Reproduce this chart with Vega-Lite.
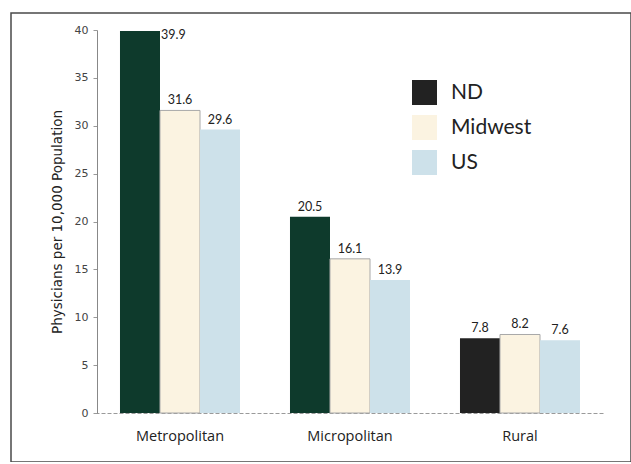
{
  "$schema": "https://vega.github.io/schema/vega-lite/v6.json",
  "autosize": "none",
  "padding": {"left": 11, "top": 13, "right": 0, "bottom": 0},
  "width": 620,
  "height": 449,
  "background": "white",
  "config": {
    "view": {"stroke": "#4a4a4a", "strokeWidth": 1.5},
    "font": "Lato"
  },
  "data": {
    "values": [
      {"cat": "Metropolitan", "series": "ND", "value": 39.9},
      {"cat": "Metropolitan", "series": "Midwest", "value": 31.6},
      {"cat": "Metropolitan", "series": "US", "value": 29.6},
      {"cat": "Micropolitan", "series": "ND", "value": 20.5},
      {"cat": "Micropolitan", "series": "Midwest", "value": 16.1},
      {"cat": "Micropolitan", "series": "US", "value": 13.9},
      {"cat": "Rural", "series": "ND", "value": 7.8},
      {"cat": "Rural", "series": "Midwest", "value": 8.2},
      {"cat": "Rural", "series": "US", "value": 7.6}
    ]
  },
  "encoding": {
    "x": {
      "field": "cat",
      "type": "nominal",
      "sort": ["Metropolitan", "Micropolitan", "Rural"],
      "scale": {"range": [84, 594], "paddingInner": 0.294, "paddingOuter": 0.147},
      "axis": {
        "title": null,
        "orient": "bottom",
        "offset": -49,
        "domain": true,
        "domainColor": "#9a9a9a",
        "domainDash": [4, 2],
        "ticks": false,
        "labelPadding": 16,
        "labelFontSize": 14.5,
        "labelFont": "Open Sans",
        "labelColor": "#222",
        "labelAngle": 0
      }
    },
    "xOffset": {
      "field": "series",
      "type": "nominal",
      "sort": ["ND", "Midwest", "US"],
      "scale": {"paddingInner": 0, "paddingOuter": 0}
    },
    "y": {
      "field": "value",
      "type": "quantitative",
      "scale": {"domain": [0, 40], "range": [400, 17], "nice": false},
      "axis": {
        "title": "Physicians per 10,000 Population",
        "titleFont": "DejaVu Sans",
        "titleFontSize": 13.5,
        "titleFontWeight": "normal",
        "titleColor": "#222",
        "titlePadding": 10,
        "offset": -86,
        "values": [0, 5, 10, 15, 20, 25, 30, 35, 40],
        "grid": false,
        "domainColor": "#888",
        "tickColor": "#999",
        "tickSize": 4,
        "labelFontSize": 11,
        "labelColor": "#444",
        "labelPadding": 5,
        "labelFont": "DejaVu Sans"
      }
    }
  },
  "layer": [
    {
      "mark": {"type": "bar", "strokeWidth": 1},
      "encoding": {
        "color": {
          "condition": {"test": "datum.series == 'ND' && datum.cat != 'Rural'", "value": "#0e3a2c"},
          "field": "series",
          "type": "nominal",
          "sort": ["ND", "Midwest", "US"],
          "scale": {"domain": ["ND", "Midwest", "US"], "range": ["#222222", "#fbf3e1", "#cde1ea"]},
          "legend": {
            "title": null,
            "orient": "none",
            "legendX": 401,
            "legendY": 67,
            "symbolType": "square",
            "symbolSize": 625,
            "symbolStrokeWidth": 0,
            "labelFontSize": 21,
            "labelColor": "#222",
            "labelOffset": 14,
            "rowPadding": 10
          }
        },
        "stroke": {
          "condition": {"test": "datum.series == 'Midwest'", "value": "#a8a8a8"},
          "value": "transparent"
        }
      }
    },
    {
      "transform": [{"filter": "!(datum.cat == 'Metropolitan' && datum.series == 'ND')"}],
      "mark": {"type": "text", "baseline": "bottom", "dy": -3, "fontSize": 12.5, "color": "#222"},
      "encoding": {"text": {"field": "value", "type": "quantitative", "format": ".1f"}}
    },
    {
      "transform": [{"filter": "datum.cat == 'Metropolitan' && datum.series == 'ND'"}],
      "mark": {"type": "text", "baseline": "middle", "align": "left", "dx": 21, "dy": 4, "fontSize": 12.5, "color": "#222"},
      "encoding": {"text": {"field": "value", "type": "quantitative", "format": ".1f"}}
    }
  ]
}
